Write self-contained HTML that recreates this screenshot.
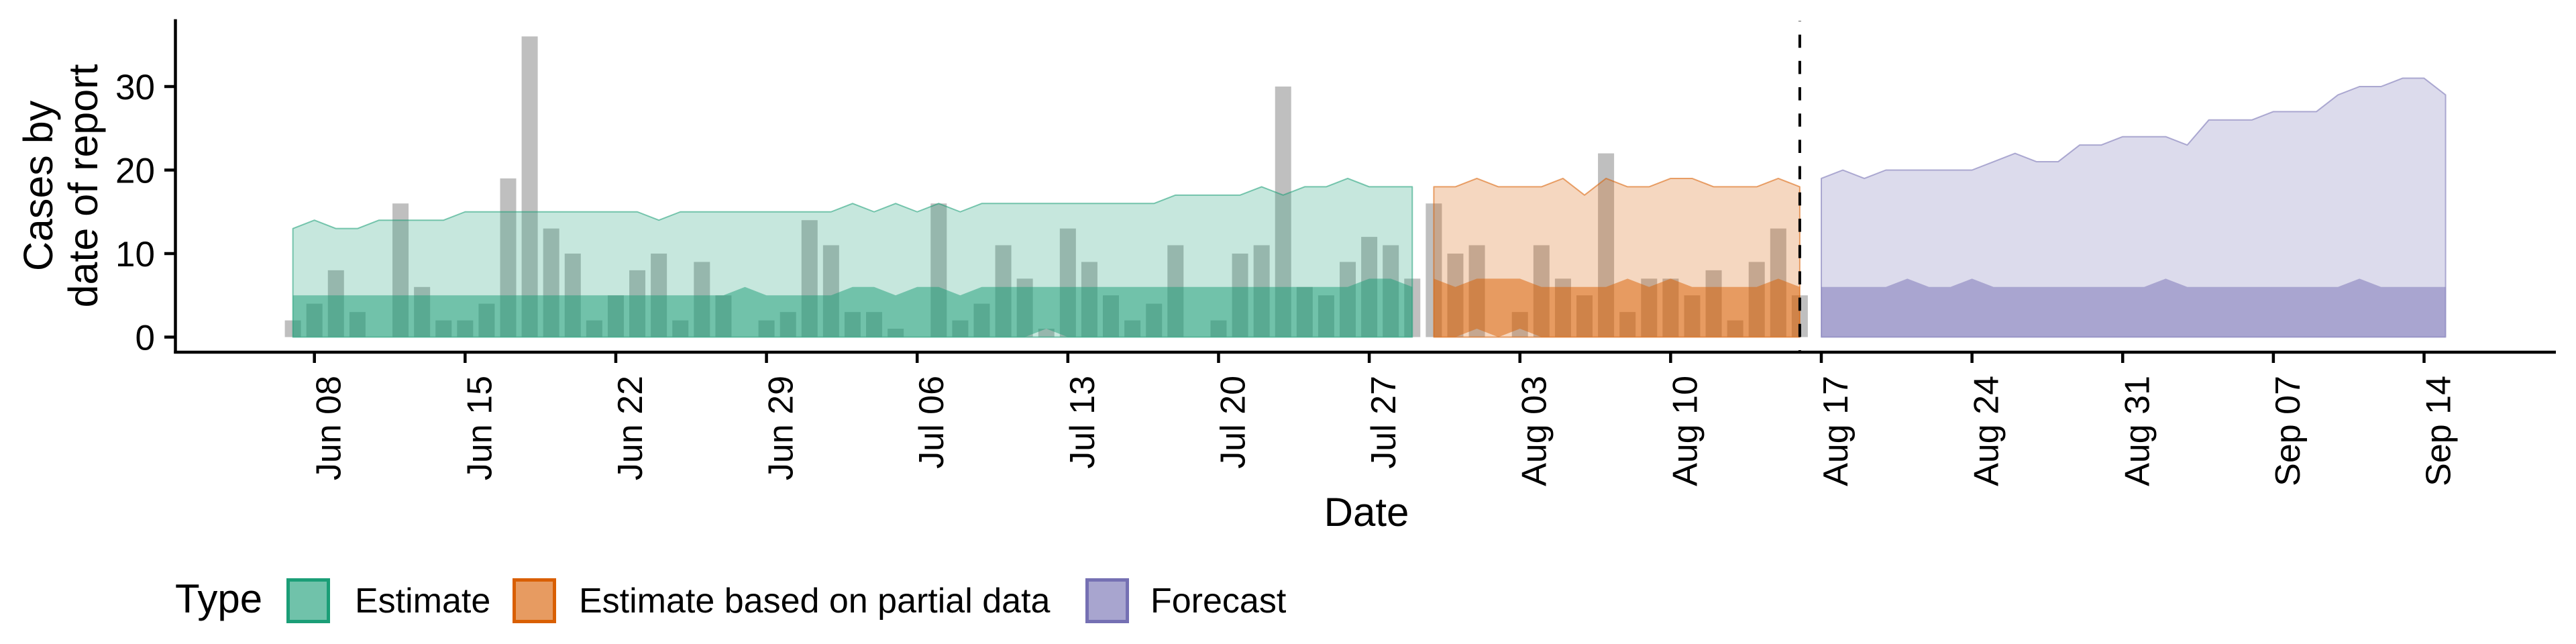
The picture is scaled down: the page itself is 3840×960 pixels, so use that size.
<!DOCTYPE html>
<html>
<head>
<meta charset="utf-8">
<style>
  body { margin: 0; background: #fff; }
  svg { display: block; font-family: "Liberation Sans", Arial, sans-serif; }
</style>
</head>
<body>
<svg id="chart" width="3840" height="960" viewBox="0 0 3840 960">
  <g id="plot-layer"></g>
  <g id="axes-layer">
    <line x1="261.5" y1="28.6" x2="261.5" y2="527" stroke="#000" stroke-width="4.5"/>
    <line x1="259.3" y1="525" x2="3810" y2="525" stroke="#000" stroke-width="4.5"/>
  </g>
  <text transform="translate(78,277) rotate(-90)" text-anchor="middle" font-size="61" fill="#000">Cases by</text>
  <text transform="translate(145,277) rotate(-90)" text-anchor="middle" font-size="61" fill="#000">date of report</text>
  <text x="2037" y="784" text-anchor="middle" font-size="60" fill="#000">Date</text>
  <g>
    <text x="261" y="913" font-size="60" fill="#000">Type</text>
    <g>
      <rect x="429.5" y="864.5" width="60" height="62" fill="#70c2aa" stroke="#1b9e77" stroke-width="5"/>
      <text x="529" y="913" font-size="52" fill="#000">Estimate</text>
    </g>
    <g>
      <rect x="766.5" y="864.5" width="60" height="62" fill="#e79b61" stroke="#d95f02" stroke-width="5"/>
      <text x="863" y="913" font-size="52" fill="#000">Estimate based on partial data</text>
    </g>
    <g>
      <rect x="1620.5" y="864.5" width="60" height="62" fill="#a8a5cf" stroke="#7570b3" stroke-width="5"/>
      <text x="1715" y="913" font-size="52" fill="#000">Forecast</text>
    </g>
  </g>
</svg>
<script>
// ---- data (day index 0 = Jun 07) ----
const cases = [2,4,8,3,0,16,6,2,2,4,19,36,13,10,2,5,8,10,2,9,5,0,2,3,
  14,11,3,3,1,0,16,2,4,11,7,1,13,9,5,2,4,11,0,2,10,11,30,6,5,9,12,11,7,16,10,
  11,0,3,11,7,5,22,3,7,7,5,8,2,9,13,5];
const estStart = 0;
const estUpper90 = [13,14,13,13,14,14,14,14,15,15,15,15,15,15,15,15,15,14,15,15,15,15,15,15,
  15,15,16,15,16,15,16,15,16,16,16,16,16,16,16,16,16,17,17,17,17,18,17,18,18,19,18,18,18];
const estLower90 = [0,0,0,0,0,0,0,0,0,0,0,0,0,0,0,0,0,0,0,0,0,0,0,0,
  0,0,0,0,0,0,0,0,0,0,0,0,0,0,0,0,0,0,0,0,0,0,0,0,0,0,0,0,0];
const estUpper50 = [5,5,5,5,5,5,5,5,5,5,5,5,5,5,5,5,5,5,5,5,5,6,5,5,
  5,5,6,6,5,6,6,5,6,6,6,6,6,6,6,6,6,6,6,6,6,6,6,6,6,6,7,7,6];
const estLower50 = [0,0,0,0,0,0,0,0,0,0,0,0,0,0,0,0,0,0,0,0,0,0,0,0,
  0,0,0,0,0,0,0,0,0,0,0,1,0,0,0,0,0,0,0,0,0,0,0,0,0,0,0,0,0];
const partStart = 53;
const partUpper90 = [18,18,19,18,18,18,19,17,19,18,18,19,19,18,18,18,19,18];
const partLower90 = [0,0,0,0,0,0,0,0,0,0,0,0,0,0,0,0,0,0];
const partUpper50 = [7,6,7,7,7,6,6,6,6,7,6,7,6,6,6,6,7,6];
const partLower50 = [0,0,1,0,1,0,0,0,0,0,0,0,0,0,0,0,0,0];
const fcStart = 71;
const fcUpper90 = [19,20,19,20,20,20,20,20,21,22,21,21,23,23,24,24,24,23,26,26,26,27,27,27,29,30,30,31,31,29];
const fcLower90 = [0,0,0,0,0,0,0,0,0,0,0,0,0,0,0,0,0,0,0,0,0,0,0,0,0,0,0,0,0,0];
const fcUpper50 = [6,6,6,6,7,6,6,7,6,6,6,6,6,6,6,6,7,6,6,6,6,6,6,6,6,7,6,6,6,6];
const fcLower50 = [0,0,0,0,0,0,0,0,0,0,0,0,0,0,0,0,0,0,0,0,0,0,0,0,0,0,0,0,0,0];
const forecastDay = 70;
const yTicks = [0,10,20,30];
const xTickDays = [1,8,15,22,29,36,43,50,57,64,71,78,85,92,99];
const xTickLabels = ["Jun 08","Jun 15","Jun 22","Jun 29","Jul 06","Jul 13","Jul 20","Jul 27","Aug 03","Aug 10","Aug 17","Aug 24","Aug 31","Sep 07","Sep 14"];

// ---- scales ----
const X0 = 436.6, DX = 32.09, Y0 = 502.5, DY = 12.45;
function xs(d) { return X0 + d * DX; }
function ys(v) { return Y0 - v * DY; }

const NS = "http://www.w3.org/2000/svg";
const plot = document.getElementById("plot-layer");
const axes = document.getElementById("axes-layer");
const svg = document.getElementById("chart");

// bars
cases.forEach((v, i) => {
  if (v <= 0) return;
  const r = document.createElementNS(NS, "rect");
  r.setAttribute("x", xs(i) - 12);
  r.setAttribute("y", ys(v));
  r.setAttribute("width", 24);
  r.setAttribute("height", Y0 - ys(v));
  r.setAttribute("fill", "rgba(127,127,127,0.5)");
  
  
  plot.appendChild(r);
});

function ribbon(start, up, lo, color, alpha, stroke, name) {
  let pts = [];
  up.forEach((v, i) => pts.push(xs(start + i).toFixed(2) + "," + ys(v).toFixed(2)));
  for (let i = lo.length - 1; i >= 0; i--) pts.push(xs(start + i).toFixed(2) + "," + ys(lo[i]).toFixed(2));
  const p = document.createElementNS(NS, "polygon");
  p.setAttribute("points", pts.join(" "));
  p.setAttribute("fill", color);
  p.setAttribute("fill-opacity", alpha);
  if (stroke) {
    p.setAttribute("stroke", color);
    p.setAttribute("stroke-opacity", 0.55);
    p.setAttribute("stroke-width", 2);
    p.setAttribute("stroke-linejoin", "round");
  }
  
  
  plot.appendChild(p);
}
ribbon(estStart, estUpper90, estLower90, "#1b9e77", 0.25, true, "estimate-outer-band");
ribbon(estStart, estUpper50, estLower50, "#1b9e77", 0.5, false, "estimate-inner-band");
ribbon(partStart, partUpper90, partLower90, "#d95f02", 0.25, true, "partial-outer-band");
ribbon(partStart, partUpper50, partLower50, "#d95f02", 0.5, false, "partial-inner-band");
ribbon(fcStart, fcUpper90, fcLower90, "#7570b3", 0.25, true, "forecast-outer-band");
ribbon(fcStart, fcUpper50, fcLower50, "#7570b3", 0.5, false, "forecast-inner-band");

// forecast divider
const dl = document.createElementNS(NS, "line");
dl.setAttribute("x1", xs(forecastDay));
dl.setAttribute("x2", xs(forecastDay));
dl.setAttribute("y1", 31.4);
dl.setAttribute("y2", 525);
dl.setAttribute("stroke", "#000");
dl.setAttribute("stroke-width", 4);
dl.setAttribute("stroke-dasharray", "19.6 19.6");
dl.setAttribute("stroke-dashoffset", "19");


plot.appendChild(dl);

// y ticks
yTicks.forEach(v => {
  const t = document.createElementNS(NS, "line");
  t.setAttribute("x1", 245); t.setAttribute("x2", 261.5);
  t.setAttribute("y1", ys(v)); t.setAttribute("y2", ys(v));
  t.setAttribute("stroke", "#000"); t.setAttribute("stroke-width", 4.5);
  
  
  axes.appendChild(t);
  const l = document.createElementNS(NS, "text");
  l.setAttribute("x", 231); l.setAttribute("y", ys(v) + 19);
  l.setAttribute("text-anchor", "end"); l.setAttribute("font-size", 53);
  l.textContent = String(v);
  
  
  axes.appendChild(l);
});

// x ticks
xTickDays.forEach((d, i) => {
  const x = xs(d);
  const t = document.createElementNS(NS, "line");
  t.setAttribute("x1", x); t.setAttribute("x2", x);
  t.setAttribute("y1", 525); t.setAttribute("y2", 541);
  t.setAttribute("stroke", "#000"); t.setAttribute("stroke-width", 4.5);
  
  
  axes.appendChild(t);
  const l = document.createElementNS(NS, "text");
  l.setAttribute("transform", "translate(" + (x + 39) + ",560) rotate(-90)");
  l.setAttribute("text-anchor", "end"); l.setAttribute("font-size", 52);
  l.textContent = xTickLabels[i];
  
  
  axes.appendChild(l);
});
</script>
</body>
</html>
